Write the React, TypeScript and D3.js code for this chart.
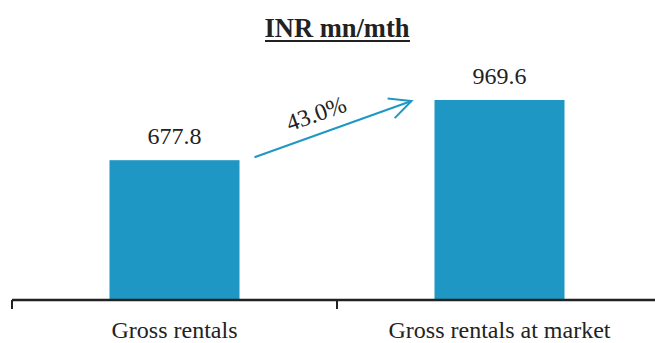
import React from "react";
import * as d3 from "d3";

const categories = ["Gross rentals", "Gross rentals at market"];
const values = [677.8, 969.6];
const valueLabels = ["677.8", "969.6"];
const growthLabel = "43.0%";
const title = "INR mn/mth";

const W = 655;
const H = 343;
const BLUE = "#1f97c4";
const FONT = "'Liberation Serif', 'Times New Roman', serif";

export default function App() {
  const x = d3.scaleBand<string>().domain(categories).range([12, 662]).paddingInner(0).paddingOuter(0);
  const y = d3.scaleLinear().domain([0, 969.6]).range([300, 100]);
  const bw = x.bandwidth() * 0.4;
  const barX = (c: string) => (x(c) as number) + (x.bandwidth() - bw) / 2;

  const x0 = barX(categories[0]) + bw + 15;
  const y0 = y(values[0]) - 3;
  const x1 = barX(categories[1]) - 23;
  const y1 = y(values[1]) + 1;
  const ang = Math.atan2(y1 - y0, x1 - x0);
  const angDeg = (ang * 180) / Math.PI;
  const head = 24;
  const spread = 0.45;
  const h1 = [x1 - head * Math.cos(ang - spread), y1 - head * Math.sin(ang - spread)];
  const h2 = [x1 - head * Math.cos(ang + spread), y1 - head * Math.sin(ang + spread)];
  const mx = (x0 + x1) / 2 - 14;
  const my = (y0 + y1) / 2 - 8;

  return (
    <svg width={W} height={H} style={{ position: "absolute", left: 0, top: 0, background: "#fff" }} fontFamily={FONT}>
      <text x={337} y={37} textAnchor="middle" fontSize={26.5} fontWeight="bold" fill="#222">{title}</text>
      <line x1={265} x2={410} y1={41} y2={41} stroke="#222" strokeWidth={2} />
      {categories.map((c, i) => (
        <g key={c}>
          <rect x={barX(c)} y={y(values[i])} width={bw} height={y(0) - y(values[i])} fill={BLUE} />
          <text x={barX(c) + bw / 2} y={y(values[i]) - 16} textAnchor="middle" fontSize={24} fill="#222">{valueLabels[i]}</text>
          <text x={(x(c) as number) + x.bandwidth() / 2} y={338} textAnchor="middle" fontSize={24} fill="#222">{c}</text>
          <line x1={x(c) as number} x2={x(c) as number} y1={y(0)} y2={y(0) + 9} stroke="#222" strokeWidth={2} />
        </g>
      ))}
      <line x1={12} x2={W} y1={y(0)} y2={y(0)} stroke="#222" strokeWidth={2.5} />
      <line x1={x0} y1={y0} x2={x1} y2={y1} stroke={BLUE} strokeWidth={2} />
      <polyline points={`${h1[0]},${h1[1]} ${x1},${y1} ${h2[0]},${h2[1]}`} fill="none" stroke={BLUE} strokeWidth={2} />
      <text x={mx} y={my} textAnchor="middle" fontSize={24} fill="#222" transform={`rotate(${angDeg} ${mx} ${my})`}>{growthLabel}</text>
    </svg>
  );
}
